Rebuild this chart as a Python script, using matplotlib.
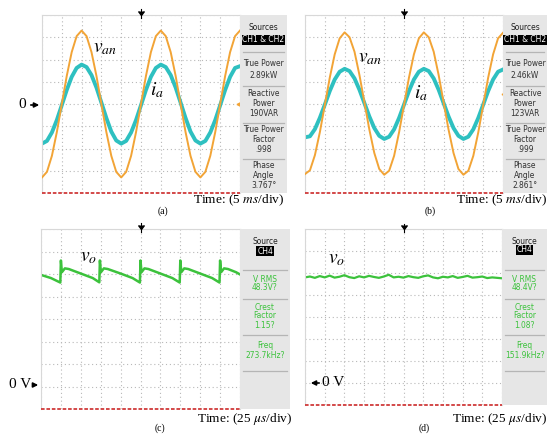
import numpy as np
import matplotlib.pyplot as plt
from matplotlib.patches import Rectangle

plt.rcParams['mathtext.fontset'] = 'stix'
plt.rcParams['font.family'] = ['Liberation Serif', 'DejaVu Serif']

# divisiones en x (0..10), tension/corriente en divisiones verticales
x_sin = np.arange(0, 10.01, 0.25)

van_a = [-3.30, -3.05, -2.33, -1.26, 0.00, 1.26, 2.33, 3.05, 3.30, 3.05, 2.33, 1.26, 0.00,
         -1.26, -2.33, -3.05, -3.30, -3.05, -2.33, -1.26, 0.00, 1.26, 2.33, 3.05, 3.30,
         3.05, 2.33, 1.26, 0.00, -1.26, -2.33, -3.05, -3.30, -3.05, -2.33, -1.26, 0.00,
         1.26, 2.33, 3.05, 3.30]
ia_a = [-1.78, -1.66, -1.28, -0.72, -0.05, 0.63, 1.22, 1.62, 1.77, 1.66, 1.30, 0.74, 0.06,
        -0.63, -1.24, -1.64, -1.78, -1.66, -1.28, -0.72, -0.05, 0.63, 1.22, 1.62, 1.77,
        1.66, 1.30, 0.74, 0.06, -0.63, -1.24, -1.64, -1.78, -1.66, -1.28, -0.72, -0.05,
        0.63, 1.22, 1.62, 1.70]

van_b = [-3.15, -2.98, -2.30, -1.27, -0.05, 1.18, 2.23, 2.95, 3.22, 3.00, 2.35, 1.30, 0.08,
         -1.15, -2.20, -2.92, -3.18, -3.00, -2.33, -1.28, -0.05, 1.18, 2.23, 2.95, 3.22,
         3.00, 2.35, 1.30, 0.08, -1.15, -2.20, -2.92, -3.18, -3.00, -2.33, -1.28, -0.05,
         1.18, 2.23, 2.95, 3.20]
ia_b = [-1.50, -1.45, -1.13, -0.62, -0.03, 0.58, 1.10, 1.45, 1.58, 1.48, 1.15, 0.64, 0.04,
        -0.56, -1.08, -1.43, -1.57, -1.47, -1.14, -0.63, -0.03, 0.58, 1.10, 1.45, 1.58,
        1.48, 1.15, 0.64, 0.04, -0.56, -1.08, -1.43, -1.57, -1.47, -1.14, -0.63, -0.03,
        0.58, 1.10, 1.45, 1.55]

# tension de salida (c): diente de sierra con picos
xo_c = [0.0, 0.5, 0.97, 1.0, 1.05, 1.2, 1.4, 2.0, 2.6, 2.93, 2.96, 3.01, 3.16, 3.36, 4.0,
        4.6, 4.97, 5.0, 5.05, 5.2, 5.4, 6.0, 6.6, 6.97, 7.0, 7.05, 7.2, 7.4, 8.0, 8.6, 8.97,
        9.0, 9.05, 9.2, 9.4, 9.8, 10.0]
vo_c = [1.96, 1.82, 1.62, 2.60, 2.08, 2.25, 2.22, 2.02, 1.82, 1.63, 2.60, 2.08, 2.25, 2.22,
        2.02, 1.82, 1.62, 2.60, 2.08, 2.25, 2.22, 2.02, 1.82, 1.62, 2.60, 2.08, 2.25, 2.22,
        2.02, 1.82, 1.62, 2.60, 2.08, 2.25, 2.22, 2.08, 1.98]

# tension de salida (d): casi plana con rizado
xo_d = np.arange(0, 10.01, 0.25)
vo_d = [1.80, 1.84, 1.78, 1.86, 1.80, 1.88, 1.79, 1.83, 1.90, 1.81, 1.77, 1.85, 1.80, 1.87,
        1.82, 1.78, 1.84, 1.92, 1.80, 1.83, 1.79, 1.86, 1.81, 1.78, 1.85, 1.89, 1.80, 1.76,
        1.83, 1.80, 1.86, 1.78, 1.82, 1.87, 1.79, 1.81, 1.84, 1.77, 1.80, 1.78, 1.76]

side_a = ["True Power", "2.89kW", "Reactive", "Power", "190VAR", "True Power", "Factor", ".998",
          "Phase", "Angle", "3.767°"]
side_b = ["True Power", "2.46kW", "Reactive", "Power", "123VAR", "True Power", "Factor", ".999",
          "Phase", "Angle", "2.861°"]
side_c = ["V RMS", "48.3V?", "Crest", "Factor", "1.15?", "Freq", "273.7kHz?"]
side_d = ["V RMS", "48.4V?", "Crest", "Factor", "1.08?", "Freq", "151.9kHz?"]

ORANGE = '#f2a436'
CYAN = '#2ec0c0'
GREEN = '#3cc23c'
W, H = 550, 434

fig = plt.figure(figsize=(5.5, 4.34), dpi=100)
fig.patch.set_facecolor('white')


def scope_axes(x0, y0, x1, y1):
    ax = fig.add_axes([x0 / W, 1 - y1 / H, (x1 - x0) / W, (y1 - y0) / H])
    ax.set_xlim(0, 10)
    ax.set_ylim(-4, 4)
    ax.set_xticks(range(11))
    ax.set_yticks(range(-4, 5))
    ax.tick_params(length=0, labelbottom=False, labelleft=False)
    ax.grid(True, ls=(0, (1, 2.5)), color='#b8b8b8', lw=0.8)
    for s in ['top', 'left', 'right']:
        ax.spines[s].set_color('#d8d8d8')
        ax.spines[s].set_linewidth(0.8)
    ax.spines['bottom'].set_visible(False)
    ax.axhline(-4, color='#d03a3a', lw=1.3, ls=(0, (2, 1)), clip_on=False, zorder=5)
    ax.plot(5, 4.0, marker=7, color='black', ms=4, clip_on=False, zorder=6)
    ax.plot([5, 5], [3.85, 4.25], color='black', lw=0.8, clip_on=False, zorder=6)
    return ax


ax_a = scope_axes(42, 15, 240, 193)
ax_a.plot(x_sin, van_a, color=ORANGE, lw=1.4, zorder=3)
ax_a.plot(x_sin, ia_a, color=CYAN, lw=2.8, zorder=2)
ax_a.plot(9.93, 0, marker='<', color=ORANGE, ms=3.5, zorder=4)

ax_b = scope_axes(305, 15, 503, 193)
ax_b.plot(x_sin, van_b, color=ORANGE, lw=1.4, zorder=3)
ax_b.plot(x_sin, ia_b, color=CYAN, lw=2.8, zorder=2)
ax_b.plot(10.05, 0.45, marker='<', color=ORANGE, ms=3.5, clip_on=False, zorder=4)

ax_c = scope_axes(41, 229, 240, 409)
ax_c.plot(xo_c, vo_c, color=GREEN, lw=1.8)

ax_d = scope_axes(305, 229, 502, 405)
ax_d.plot(xo_d, vo_d, color=GREEN, lw=1.6)

# capa superior en pixeles para textos y paneles laterales
ov = fig.add_axes([0, 0, 1, 1], zorder=10)
ov.set_xlim(0, W)
ov.set_ylim(H, 0)
ov.axis('off')
ov.patch.set_alpha(0)

narrow = dict(family='DejaVu Sans', stretch='condensed', fontsize=6)


def side_panel(x0, x1, y0, y1, head, src, lines, ys, seps, colors):
    ov.add_patch(Rectangle((x0, y0), x1 - x0, y1 - y0, fc='#e6e6e6', ec='none'))
    xc = (x0 + x1) / 2
    ov.text(xc, head[0], src[0], ha='center', va='center', color='#222222', **narrow)
    ov.text(xc, head[1], src[1], ha='center', va='center', color='white',
            bbox=dict(boxstyle='square,pad=0.1', fc='black', ec='none'), **narrow)
    for s in seps:
        ov.plot([x0 + 3, x1 - 3], [s, s], color='#b5b5b5', lw=0.9)
    for t, y, c in zip(lines, ys, colors):
        ov.text(xc, y, t, ha='center', va='center', color=c, **narrow)


top_ys = [64, 75, 94, 104, 114, 130, 140, 150, 165, 175, 185]
top_seps = [52, 86, 123, 159]
side_panel(240, 287, 15, 193, (28, 40), ("Sources", "CH1 & CH2"), side_a, top_ys, top_seps,
           ['#333333'] * 11)
side_panel(503, 547, 15, 193, (28, 40), ("Sources", "CH1 & CH2"), side_b, top_ys, top_seps,
           ['#333333'] * 11)
bot_ys = [279, 287, 307, 316, 325, 346, 355]
bot_seps = [270, 299, 335, 371]
side_panel(240, 290, 229, 409, (242, 251), ("Source", "CH4"), side_c, bot_ys, bot_seps, [GREEN] * 7)
side_panel(502, 547, 229, 405, (241, 250), ("Source", "CH4"), side_d, bot_ys, bot_seps, [GREEN] * 7)

# etiquetas de las formas de onda
ov.text(93, 48, r'$v_{an}$', fontsize=14, va='center', ha='left')
ov.text(150, 90, r'$i_a$', fontsize=14, va='center', ha='left')
ov.text(358, 58, r'$v_{an}$', fontsize=14, va='center', ha='left')
ov.text(414, 93, r'$i_a$', fontsize=14, va='center', ha='left')
ov.text(80, 258, r'$v_o$', fontsize=14, va='center', ha='left')
ov.text(328, 260, r'$v_o$', fontsize=14, va='center', ha='left')

# marcas de cero
arrow = dict(arrowstyle='-|>', color='black', lw=1.2, mutation_scale=7)
ov.text(22, 105, '0', fontsize=11, va='center', ha='center')
ov.annotate('', xy=(42, 105), xytext=(28, 105), arrowprops=arrow)
ov.text(20, 385, '0 V', fontsize=11, va='center', ha='center')
ov.annotate('', xy=(41, 385), xytext=(30, 385), arrowprops=arrow)
ov.annotate('', xy=(308, 383), xytext=(322, 383), arrowprops=arrow)
ov.text(333, 383, '0 V', fontsize=11, va='center', ha='center')

# escalas de tiempo y subtitulos
tkw = dict(fontsize=9.6, va='center')
ov.text(193, 200, r'Time: (5 $ms$/div)', ha='left', **tkw)
ov.text(547, 200, r'Time: (5 $ms$/div)', ha='right', **tkw)
ov.text(197, 419, r'Time: (25 $\mu s$/div)', ha='left', **tkw)
ov.text(547, 419, r'Time: (25 $\mu s$/div)', ha='right', **tkw)
ov.text(163, 211, '(a)', fontsize=7, va='center', ha='center')
ov.text(430, 211, '(b)', fontsize=7, va='center', ha='center')
ov.text(160, 428, '(c)', fontsize=7, va='center', ha='center')
ov.text(424, 428, '(d)', fontsize=7, va='center', ha='center')

fig.savefig('out.png', dpi=100)
